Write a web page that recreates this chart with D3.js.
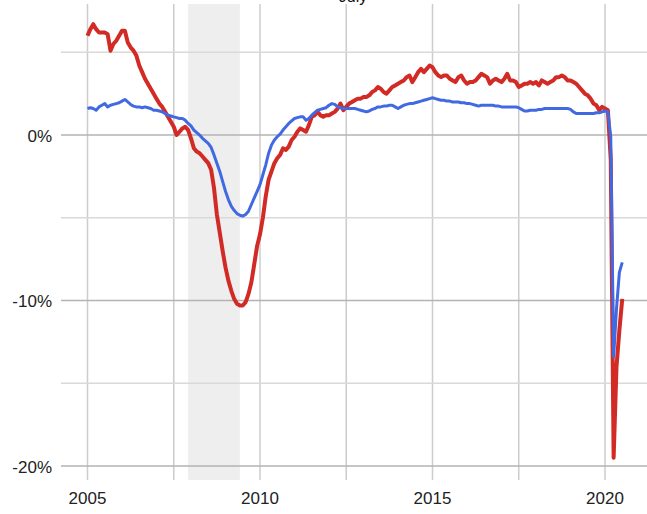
<!DOCTYPE html>
<html>
<head>
<meta charset="utf-8">
<script src="https://cdn.jsdelivr.net/npm/d3@7"></script>
<style>
  body { margin: 0; background: #fff; }
  text { font-family: Arial, "Liberation Sans", sans-serif; }
</style>
</head>
<body>
<svg id="chart" width="647" height="514"></svg>
<script>
// monthly values, Jan 2005 .. Jul 2020
var startYear = 2005;

var red = [
  6.0, 6.4, 6.7, 6.4, 6.2, 6.2, 6.2, 6.1, 5.1, 5.5, 5.7, 6.0,     // 2005
  6.3, 6.3, 5.6, 5.3, 5.1, 4.8, 4.2, 3.8, 3.4, 3.1, 2.8, 2.5,     // 2006
  2.2, 1.9, 1.7, 1.4, 1.1, 0.8, 0.5, 0.0, 0.2, 0.4, 0.5, 0.3,     // 2007
  -0.2, -0.8, -1.0, -1.1, -1.3, -1.5, -1.7, -2.1, -3.2, -4.8, -5.9, -7.0,  // 2008
  -8.0, -8.8, -9.4, -9.9, -10.2, -10.3, -10.3, -10.1, -9.6, -8.9, -7.8, -6.7, // 2009
  -6.0, -5.0, -3.7, -2.7, -2.2, -1.7, -1.4, -1.2, -0.8, -0.9, -0.7, -0.3, // 2010
  -0.1, 0.2, 0.4, 0.3, 0.2, 0.6, 1.1, 1.2, 1.4, 1.2, 1.1, 1.2,    // 2011
  1.2, 1.3, 1.4, 1.6, 1.9, 1.5, 1.7, 1.9, 2.0, 2.1, 2.2, 2.2,     // 2012
  2.3, 2.3, 2.4, 2.6, 2.7, 2.9, 2.8, 2.6, 2.5, 2.7, 2.9, 3.0,     // 2013
  3.1, 3.2, 3.3, 3.5, 3.6, 3.2, 3.5, 3.8, 4.0, 3.8, 4.0, 4.2,     // 2014
  4.1, 3.8, 3.6, 3.5, 3.6, 3.6, 3.4, 3.3, 3.2, 3.5, 3.6, 3.3,     // 2015
  3.1, 3.2, 3.2, 3.3, 3.5, 3.7, 3.6, 3.5, 3.1, 3.3, 3.4, 3.3,     // 2016
  3.2, 3.4, 3.7, 3.3, 3.3, 3.2, 2.9, 3.0, 3.1, 3.1, 3.2, 3.1,     // 2017
  3.2, 3.0, 3.3, 3.2, 3.1, 3.2, 3.3, 3.5, 3.5, 3.6, 3.5, 3.3,     // 2018
  3.3, 3.2, 3.1, 2.9, 2.7, 2.5, 2.4, 2.2, 1.9, 1.8, 1.5, 1.7,     // 2019
  1.6, 1.5, -1.5, -19.5, -14.0, -11.8, -9.9                       // 2020
];

var blue = [
  1.6, 1.65, 1.6, 1.5, 1.7, 1.8, 1.9, 1.7, 1.8, 1.85, 1.9, 1.95,  // 2005
  2.05, 2.15, 2.0, 1.85, 1.75, 1.7, 1.7, 1.65, 1.7, 1.65, 1.6, 1.5, // 2006
  1.5, 1.45, 1.4, 1.3, 1.2, 1.15, 1.1, 1.05, 1.0, 1.0, 0.9, 0.7,  // 2007
  0.55, 0.3, 0.15, 0.0, -0.2, -0.35, -0.5, -0.75, -1.2, -1.7, -2.2, -2.8, // 2008
  -3.4, -3.9, -4.3, -4.55, -4.75, -4.85, -4.9, -4.8, -4.6, -4.2, -3.8, -3.4, // 2009
  -3.0, -2.4, -1.8, -1.1, -0.6, -0.3, -0.1, 0.05, 0.3, 0.5, 0.7, 0.85, // 2010
  1.0, 1.05, 1.1, 1.1, 0.9, 1.0, 1.2, 1.35, 1.5, 1.55, 1.6, 1.65, // 2011
  1.8, 1.9, 1.85, 1.7, 1.65, 1.6, 1.6, 1.6, 1.6, 1.6, 1.55, 1.5,  // 2012
  1.45, 1.4, 1.45, 1.55, 1.6, 1.7, 1.7, 1.75, 1.75, 1.8, 1.8, 1.7, // 2013
  1.6, 1.7, 1.8, 1.85, 1.9, 1.9, 1.95, 2.0, 2.05, 2.1, 2.15, 2.2, // 2014
  2.25, 2.2, 2.15, 2.1, 2.1, 2.05, 2.05, 2.0, 2.0, 2.0, 1.95, 1.95, // 2015
  1.9, 1.9, 1.85, 1.8, 1.75, 1.8, 1.8, 1.8, 1.8, 1.8, 1.75, 1.75, // 2016
  1.7, 1.7, 1.7, 1.7, 1.7, 1.7, 1.65, 1.55, 1.45, 1.45, 1.5, 1.5, // 2017
  1.5, 1.55, 1.55, 1.6, 1.6, 1.6, 1.6, 1.6, 1.6, 1.6, 1.6, 1.6,   // 2018
  1.55, 1.4, 1.3, 1.3, 1.3, 1.3, 1.3, 1.3, 1.3, 1.35, 1.35, 1.4,  // 2019
  1.45, 1.4, -0.1, -13.4, -10.5, -8.3, -7.7                       // 2020
];

var recession = [2007 + 11 / 12, 2009 + 5 / 12];   // Dec 2007 - Jun 2009
var yTicks = [5, 0, -5, -10, -15, -20];
var yLabels = [0, -10, -20];
var xGrid = [2005, 2007.5, 2010, 2012.5, 2015, 2017.5, 2020];
var xLabels = [2005, 2010, 2015, 2020];
var title = "July";

var svg = d3.select("#chart");
var W = 647;
var plotLeft = 61, plotTop = 4, plotBottom = 480;

var x = d3.scaleLinear().domain([2005, 2020]).range([87.5, 605]);
var y = d3.scaleLinear().domain([-20.85, 7.92]).range([plotBottom, plotTop]);

// recession band
svg.append("rect")
    .attr("x", x(recession[0]))
    .attr("y", plotTop)
    .attr("width", x(recession[1]) - x(recession[0]))
    .attr("height", plotBottom - plotTop)
    .attr("fill", "#eeeeee");

// vertical grid
svg.selectAll("line.vgrid")
    .data(xGrid)
    .enter().append("line")
    .attr("class", "vgrid")
    .attr("x1", d => x(d)).attr("x2", d => x(d))
    .attr("y1", plotTop).attr("y2", plotBottom)
    .attr("stroke", "#cccccc")
    .attr("stroke-width", 1.5);

// horizontal grid, labelled ones darker
svg.selectAll("line.hgrid")
    .data(yTicks)
    .enter().append("line")
    .attr("class", "hgrid")
    .attr("x1", plotLeft).attr("x2", W)
    .attr("y1", d => y(d)).attr("y2", d => y(d))
    .attr("stroke", d => yLabels.indexOf(d) >= 0 ? "#b3b3b3" : "#d9d9d9")
    .attr("stroke-width", 1.6);

svg.selectAll("text.ylab")
    .data(yLabels)
    .enter().append("text")
    .attr("class", "ylab")
    .attr("x", 52)
    .attr("y", d => y(d) + 7)
    .attr("text-anchor", "end")
    .attr("font-size", 17)
    .attr("fill", "#222")
    .text(d => d + "%");

svg.selectAll("text.xlab")
    .data(xLabels)
    .enter().append("text")
    .attr("class", "xlab")
    .attr("x", d => x(d))
    .attr("y", 504)
    .attr("text-anchor", "middle")
    .attr("font-size", 17)
    .attr("fill", "#222")
    .text(d => d);

svg.append("text")
    .attr("x", 353)
    .attr("y", 2)
    .attr("text-anchor", "middle")
    .attr("font-size", 16)
    .attr("fill", "#111")
    .text(title);

var line = d3.line()
    .x((d, i) => x(startYear + i / 12))
    .y(d => y(d));

svg.append("path")
    .datum(red)
    .attr("d", line)
    .attr("fill", "none")
    .attr("stroke", "#d22b26")
    .attr("stroke-width", 4)
    .attr("stroke-linejoin", "round");

svg.append("path")
    .datum(blue)
    .attr("d", line)
    .attr("fill", "none")
    .attr("stroke", "#4169e1")
    .attr("stroke-width", 3)
    .attr("stroke-linejoin", "round");
</script>
</body>
</html>
